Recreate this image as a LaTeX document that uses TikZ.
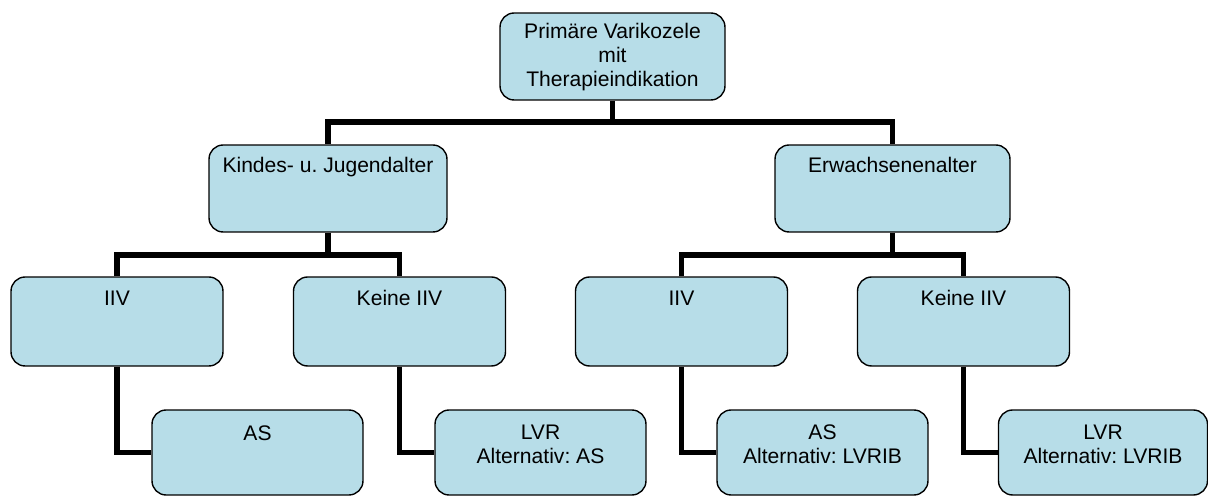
\documentclass[tikz,border=0pt]{standalone}
\usepackage{fontspec}
\setmainfont{Liberation Sans}
\frenchspacing
\definecolor{boxblue}{HTML}{B7DDE8}
\tikzset{
  box/.style={draw=black, line width=0.8pt, fill=boxblue, rounded corners=8pt,
    inner sep=0pt, align=center, text height=0.56cm,
    font=\fontsize{12}{13.7}\selectfont},
  conn/.style={line width=2.9pt, black}
}
\begin{document}
\begin{tikzpicture}[x=0.02cm, y=-0.02cm]
\useasboundingbox (0,0) rectangle (1208,496);
% top
\node[box, minimum width=4.5cm, text height=1.48cm, text depth=0.26cm] (prim) at (612.5,56.5)
  {Primäre Varikozele\\mit\\Therapieindikation};
% age groups
\node[box, minimum width=4.76cm, text depth=1.18cm] (kind) at (328,188.5) {Kindes- u. Jugendalter};
\node[box, minimum width=4.7cm, text depth=1.18cm] (erw) at (892.5,188.5) {Erwachsenenalter};
% IIV or not
\node[box, minimum width=4.24cm, text depth=1.22cm] (iivk) at (117,321.5) {IIV};
\node[box, minimum width=4.24cm, text depth=1.22cm] (noiivk) at (399.5,321.5) {Keine IIV};
\node[box, minimum width=4.24cm, text depth=1.22cm] (iive) at (681.5,321.5) {IIV};
\node[box, minimum width=4.24cm, text depth=1.22cm] (noiive) at (963.5,321.5) {Keine IIV};
% therapy
\node[box, minimum width=4.22cm, text height=0.6cm, text depth=1.1cm] (ask) at (257.5,452.5) {AS};
\node[box, minimum width=4.22cm, text height=1.08cm, text depth=0.62cm] (lvrk) at (540.5,452.5) {LVR\\Alternativ: AS};
\node[box, minimum width=4.22cm, text height=1.08cm, text depth=0.62cm] (ase) at (822.5,452.5) {AS\\Alternativ: LVRIB};
\node[box, minimum width=4.18cm, text height=1.08cm, text depth=0.62cm] (lvre) at (1103,452.5) {LVR\\Alternativ: LVRIB};
% connectors
\coordinate (bus1) at (612.5,122);
\coordinate (bus2) at (328,255);
\coordinate (bus3) at (892.5,255);
\draw[conn] (prim.south) -- (bus1);
\draw[conn] (kind.north) |- (bus1) -| (erw.north);
\draw[conn] (kind.south) -- (bus2);
\draw[conn] (iivk.north) |- (bus2) -| (noiivk.north);
\draw[conn] (erw.south) -- (bus3);
\draw[conn] (iive.north) |- (bus3) -| (noiive.north);
\draw[conn] (iivk.south) |- (ask.west);
\draw[conn] (noiivk.south) |- (lvrk.west);
\draw[conn] (iive.south) |- (ase.west);
\draw[conn] (noiive.south) |- (lvre.west);
\end{tikzpicture}
\end{document}
